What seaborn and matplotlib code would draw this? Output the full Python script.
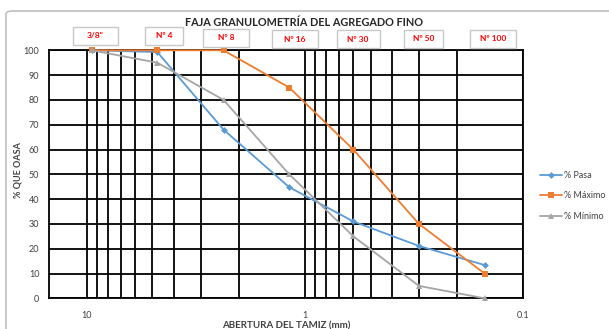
import matplotlib
matplotlib.use("Agg")
import matplotlib.pyplot as plt
from matplotlib.patches import Rectangle, FancyBboxPatch
from matplotlib.ticker import LogLocator, FixedLocator, NullFormatter
import seaborn as sns
import pandas as pd

# Sieve openings (mm) and passing percentages
tamices = ['3/8"', "Nº 4", "Nº 8", "Nº 16", "Nº 30", "Nº 50", "Nº 100"]
abertura = [9.5, 4.75, 2.36, 1.18, 0.6, 0.3, 0.15]
pasa = [100, 99.3, 68, 44.8, 31, 21.1, 13.4]
maximo = [100, 100, 100, 85, 60, 30, 10]
minimo = [100, 95, 80, 50, 25, 5, 0]

sns.set_theme(style="white")
plt.rcParams["font.family"] = ["Lato", "DejaVu Sans"]

W, H = 609, 329
fig = plt.figure(figsize=(W / 100, H / 100), dpi=100)
fig.patch.set_facecolor("white")


def fx(px):
    return px / W


def fy(py):
    return 1 - py / H


# chart frame
fig.patches.append(FancyBboxPatch((fx(6), fy(345)), fx(640), fy(11) - fy(345),
                                  boxstyle="round,pad=0,rounding_size=0.01",
                                  transform=fig.transFigure, fill=False,
                                  edgecolor="#BFBFBF", lw=1.2, zorder=0))

ax = fig.add_axes([fx(49), fy(298.3), fx(523) - fx(49), fy(50.3) - fy(298.3)])

df = pd.DataFrame({"abertura": abertura, "pasa": pasa,
                   "maximo": maximo, "minimo": minimo})

estilo = dict(ax=ax, sort=False, lw=1.3, markeredgewidth=0, zorder=3,
              clip_on=False)
sns.lineplot(data=df, x="abertura", y="pasa", color="#5B9BD5",
             marker="D", markersize=3.5, label="% Pasa", **estilo)
sns.lineplot(data=df, x="abertura", y="maximo", color="#ED7D31",
             marker="s", markersize=5, label="% Máximo", **estilo)
sns.lineplot(data=df, x="abertura", y="minimo", color="#A5A5A5",
             marker="^", markersize=5, label="% Mínimo", **estilo)

ax.set_xscale("log")
ax.set_xlim(14.9, 0.1)
ax.set_ylim(0, 100)
ax.xaxis.set_major_locator(FixedLocator([10, 1, 0.1]))
ax.xaxis.set_minor_locator(LogLocator(base=10, subs=range(2, 10)))
ax.xaxis.set_minor_formatter(NullFormatter())
ax.set_xticklabels(["10", "1", "0.1"])
ax.set_yticks(range(0, 101, 10))
ax.grid(True, which="both", color="black", lw=1.3)
ax.set_axisbelow(True)
for s in ax.spines.values():
    s.set_color("black")
    s.set_linewidth(1.3)
    s.set_zorder(1.5)
ax.tick_params(axis="both", which="both", length=0, labelsize=6.5,
               colors="#404040")
ax.tick_params(axis="x", pad=9)
ax.tick_params(axis="y", pad=7)
ax.set_xlabel("")
ax.set_ylabel("")
ax.get_legend().remove()

fig.text(fx(304), fy(23), "FAJA GRANULOMETRÍA DEL AGREGADO FINO",
         ha="center", va="center", fontsize=7.8, fontweight="bold",
         color="#262626")
fig.text(fx(18), fy(170), "% QUE OASA", rotation=90, ha="center",
         va="center", fontsize=6.5, fontweight="bold", color="#404040")
fig.text(fx(286), fy(321), "ABERTURA DEL TAMIZ (mm)", ha="center",
         va="top", fontsize=7, fontweight="bold", color="#404040")

# sieve labels above the grid
cajas = [(95, 35.7, 45), (164, 36, 38), (226, 38, 46), (295, 39, 46),
         (358, 39, 43), (423.5, 38.5, 39), (493, 38.5, 46)]
for nombre, (cx, cy, bw) in zip(tamices, cajas):
    bh = 18
    fig.patches.append(Rectangle((fx(cx - bw / 2), fy(cy + bh / 2)),
                                 fx(bw), fy(0) - fy(bh),
                                 transform=fig.transFigure,
                                 facecolor="white", edgecolor="#C8C8C8",
                                 lw=1.0, zorder=3))
    fig.text(fx(cx), fy(cy), nombre, ha="center", va="center",
             fontsize=6, fontweight="bold", color="#FF0000", zorder=4)

handles, labels = ax.get_legend_handles_labels()
fig.legend(handles, labels, loc="upper left",
           bbox_to_anchor=(fx(532), fy(163)), frameon=False,
           fontsize=6.5, handlelength=2.4, labelspacing=1.25,
           handletextpad=0.3, labelcolor="#404040")

fig.savefig("out.png", dpi=100)
